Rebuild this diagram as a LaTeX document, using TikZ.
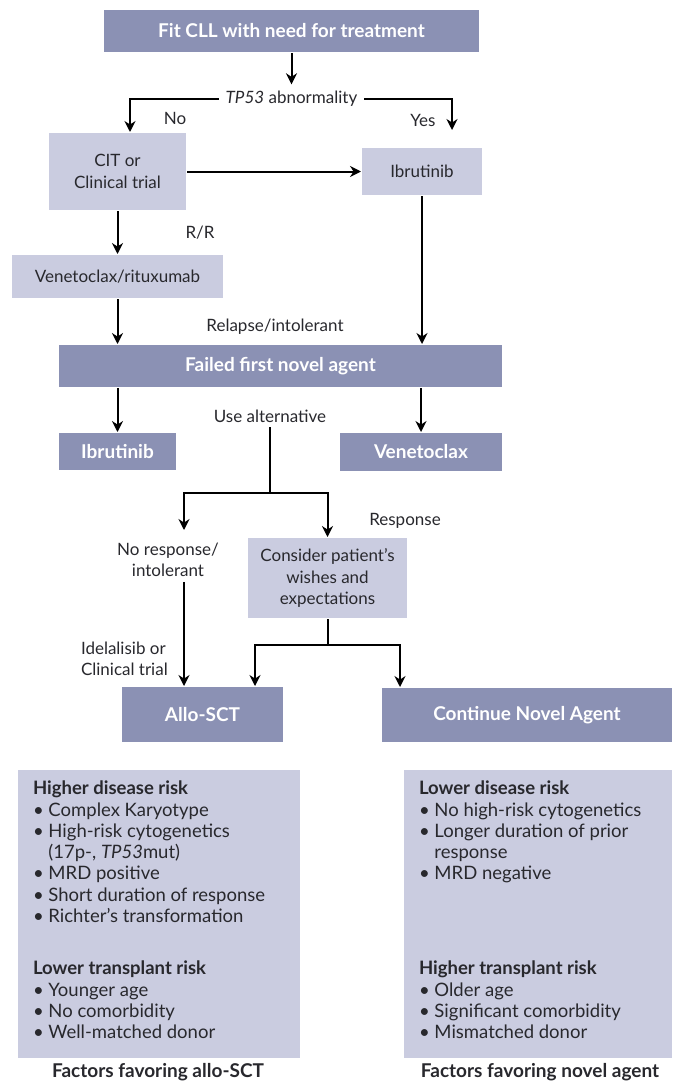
\documentclass[tikz,border=0pt]{standalone}
\usepackage{fontspec}
\setmainfont{Lato}
\usetikzlibrary{arrows,arrows.meta}
\definecolor{box_dark}{RGB}{139,145,180}
\definecolor{box_light}{RGB}{202,204,224}
\definecolor{text_gray}{RGB}{40,40,45}

\begin{document}
\begin{tikzpicture}[->,line width=2pt,>={Stealth[length=11pt,width=11pt]},x=1pt,y=-1pt]
    \tikzstyle{darkbox}=[rectangle, fill=box_dark, text=white, font=\fontsize{19}{21}\selectfont\bfseries, inner sep=0pt]
    \tikzstyle{lightbox}=[rectangle, fill=box_light, text=text_gray, align=center, font=\fontsize{17}{21.5}\selectfont, inner sep=0pt]
    \tikzstyle{lbl}=[text=text_gray, font=\fontsize{17}{21}\selectfont, inner sep=2pt]
    \tikzstyle{lst}=[text=text_gray, align=left, inner sep=0pt, font=\fontsize{18.5}{21.3}\selectfont]

    \useasboundingbox (0,0) rectangle (672,1084);

    \node[darkbox, minimum width=375, minimum height=42] (start) at (291.5,31) {Fit CLL with need for treatment};
    \node[lbl, inner sep=6pt] (tp) at (291.5,99) {\textit{TP53} abnormality};
    \node[lightbox, minimum width=137, minimum height=77] (cit) at (117.5,171.5) {CIT or\\Clinical trial};
    \node[lightbox, minimum width=120, minimum height=47] (ibr) at (422,171.5) {Ibrutinib};
    \node[lightbox, minimum width=211, minimum height=43] (vr) at (117.5,276.5) {Venetoclax/rituxumab};
    \node[darkbox, minimum width=443, minimum height=42] (failed) at (280.5,366) {Failed first novel agent};
    \node[darkbox, minimum width=117, minimum height=37] (ibr2) at (117.5,451.5) {Ibrutinib};
    \node[darkbox, minimum width=162, minimum height=38] (ven) at (421,452) {Venetoclax};
    \node[lightbox, minimum width=159, minimum height=80] (cons) at (327.5,578) {Consider patient's\\wishes and\\expectations};
    \node[darkbox, minimum width=161, minimum height=55] (allo) at (202.5,714.5) {Allo-SCT};
    \node[darkbox, minimum width=290, minimum height=54] (cont) at (527,715) {Continue Novel Agent};
    \node[lightbox, minimum width=282, minimum height=288] (allof) at (159,914) {};
    \node[lightbox, minimum width=268, minimum height=288] (novf) at (538,914) {};

    \node[lbl] (no) at (175,118) {No};
    \node[lbl] (yes) at (423,120) {Yes};
    \node[lbl] (rr) at (200,233) {R/R};
    \node[lbl] (rel) at (275,327) {Relapse/intolerant};
    \node[lbl, inner sep=4pt] (use) at (270,416) {Use alternative};
    \node[lbl] (resp) at (405,521) {Response};
    \node[lbl, align=center, inner sep=4pt] (nore) at (168,560) {No response/\\intolerant};
    \node[lbl, align=left, anchor=west] (idel) at (78,659) {Idelalisib or\\Clinical trial};

    \node[lst, anchor=north west] (hdrisk) at (32,780) {\textbf{Higher disease risk}\\
      \textbullet\ Complex Karyotype\\
      \textbullet\ High-risk cytogenetics\\
      \phantom{\textbullet\ }(17p-, \textit{TP53}mut)\\
      \textbullet\ MRD positive\\
      \textbullet\ Short duration of response\\
      \textbullet\ Richter's transformation};
    \node[lst, anchor=north west] (ltrisk) at (32,960) {\textbf{Lower transplant risk}\\
      \textbullet\ Younger age\\
      \textbullet\ No comorbidity\\
      \textbullet\ Well-matched donor};
    \node[lst, anchor=north west] (ldrisk) at (418,780) {\textbf{Lower disease risk}\\
      \textbullet\ No high-risk cytogenetics\\
      \textbullet\ Longer duration of prior\\
      \phantom{\textbullet\ }response\\
      \textbullet\ MRD negative};
    \node[lst, anchor=north west] (htrisk) at (418,960) {\textbf{Higher transplant risk}\\
      \textbullet\ Older age\\
      \textbullet\ Significant comorbidity\\
      \textbullet\ Mismatched donor};
    \node[lbl, font=\fontsize{19}{21}\selectfont\bfseries] (capl) at (158,1072) {Factors favoring allo-SCT};
    \node[lbl, font=\fontsize{19}{21}\selectfont\bfseries] (capr) at (540,1072) {Factors favoring novel agent};

    \coordinate (yesend) at (452,130);
    \coordinate (split1) at (270,493);
    \coordinate (noend) at (184,530);
    \coordinate (split2) at (327.5,645);

    \draw (tp.west) -| ([xshift=12.5]cit.north);
    \draw (tp.east) -| (yesend);
    \draw[-] (use.south) -- (split1);
    \draw (split1) -| (noend);
    \draw (split1) -| (cons.north);
    \draw[-] (cons.south) -- (split2);
    \draw (split2) -| ([xshift=52.5]allo.north);
    \draw (split2) -| ([xshift=-127]cont.north);
    \path
     (start) edge (tp)
     (cit) edge (ibr)
     (cit) edge (vr)
     (vr) edge (vr.south |- failed.north)
     (ibr) edge (ibr.south |- failed.north)
     (failed.south -| ibr2) edge (ibr2)
     (failed.south -| ven) edge (ven)
     (nore.south -| noend) edge (noend |- allo.north)
     ;
\end{tikzpicture}
\end{document}
